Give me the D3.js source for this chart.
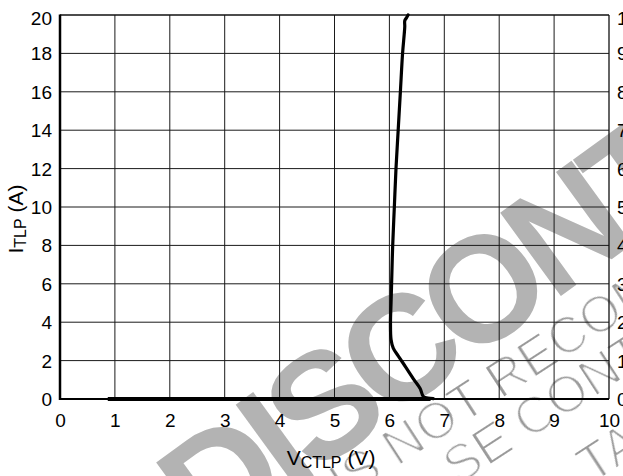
<!DOCTYPE html>
<html><head><meta charset="utf-8">
<script src="https://cdn.jsdelivr.net/npm/d3@7"></script>
<style>html,body{margin:0;padding:0;background:#fff;overflow:hidden}</style>
</head><body>
<svg id="c" width="623" height="476"></svg>
<script>
// ---- data ----
const xTicks = [0,1,2,3,4,5,6,7,8,9,10];
const yTicks = [0,2,4,6,8,10,12,14,16,18,20];
const yRightTicks = [0,1,2,3,4,5,6,7,8,9,10];
// TLP curve: V (volts) and I (amps)
const vBase = [0.87, 6.75];
const iBase = [0, 0];
const vCurve = [6.80,6.70,6.62,6.56,6.45,6.30,6.16,6.07,6.03,6.02,6.03,6.04,6.06,6.09,6.12,6.16,6.20,6.24,6.27,6.28,6.28,6.31,6.34];
const iCurve = [0.02,0.05,0.12,0.55,1.00,1.65,2.25,2.65,3.10,4.0,5.0,6.0,8.0,10.0,12.0,14.0,16.0,18.0,19.0,19.4,19.7,19.85,20.0];
const watermarkBig = "DISCONTINUED";
const watermarkLines = ["IS NOT RECOMMENDED", "SE CONTACT", "TATIVE"];

const svg = d3.select("#c");
const font = "'Liberation Sans', Arial, Helvetica, sans-serif";
const L = 60, R = 609, T = 15, B = 399;
const x = d3.scaleLinear().domain([0,10]).range([L,R]);
const y = d3.scaleLinear().domain([0,20]).range([B,T]);
const y2 = d3.scaleLinear().domain([0,10]).range([B,T]);

// ---- watermark (behind) ----
const defs = svg.append("defs");
defs.append("filter").attr("id","thin").attr("x","-10%").attr("y","-10%").attr("width","120%").attr("height","120%")
  .append("feMorphology").attr("operator","erode").attr("radius",0.9);

const wm = svg.append("g");
const bigFs = 150, ls = -10;
wm.append("g").attr("transform","translate(482,287) rotate(-36)")
  .append("text").attr("x",-(2.778*bigFs + 4*ls)).attr("y",0.358*bigFs)
  .attr("font-family",font).attr("font-weight","bold").attr("font-size",bigFs)
  .attr("letter-spacing",ls)
  .attr("fill","#b3b3b3").text(watermarkBig);

const wmPos = [
  {tx:404, ty:440, x:-84, y:19},
  {tx:460, ty:462, x:-15, y:19},
  {tx:590, ty:463, x:-10, y:19}
];
watermarkLines.forEach((t,i)=>{
  const p = wmPos[i];
  wm.append("g").attr("transform",`translate(${p.tx},${p.ty}) rotate(-33)`)
    .append("text").attr("x",p.x).attr("y",p.y)
    .attr("font-family",font).attr("font-size",52)
    .attr("fill","#9a9a9a").attr("filter","url(#thin)").text(t);
});

// ---- grid ----
const g = svg.append("g");
g.selectAll(".vx").data(xTicks.slice(1,-1)).enter().append("line")
  .attr("x1",d=>x(d)).attr("x2",d=>x(d)).attr("y1",T).attr("y2",B)
  .attr("stroke","#1a1a1a").attr("stroke-width",1);
g.selectAll(".hy").data(yTicks.slice(1,-1)).enter().append("line")
  .attr("x1",L).attr("x2",R).attr("y1",d=>y(d)).attr("y2",d=>y(d))
  .attr("stroke","#1a1a1a").attr("stroke-width",1);
// frame
g.append("line").attr("x1",L).attr("x2",R).attr("y1",T).attr("y2",T).attr("stroke","#111").attr("stroke-width",1.3);
g.append("line").attr("x1",R).attr("x2",R).attr("y1",T).attr("y2",B).attr("stroke","#111").attr("stroke-width",1.3);
g.append("line").attr("x1",L).attr("x2",R).attr("y1",B).attr("y2",B).attr("stroke","#000").attr("stroke-width",2);
g.append("line").attr("x1",L).attr("x2",L).attr("y1",T-0.5).attr("y2",B+1).attr("stroke","#000").attr("stroke-width",2.5);

// ---- axes labels (via d3 axes, domain hidden) ----
const fs = 19;
const axL = svg.append("g").attr("transform",`translate(${L},0)`)
  .call(d3.axisLeft(y).tickValues(yTicks).tickSize(0).tickPadding(8));
axL.select(".domain").remove();
axL.selectAll("text").attr("font-family",font).attr("font-size",fs).attr("fill","#000")
  .attr("dy",null).attr("y",d=> d===20 ? 9 : 6.5);

const axB = svg.append("g").attr("transform",`translate(0,${B})`)
  .call(d3.axisBottom(x).tickValues(xTicks).tickSize(0).tickPadding(0));
axB.select(".domain").remove();
axB.selectAll("text").attr("font-family",font).attr("font-size",fs).attr("fill","#000")
  .attr("dy",null).attr("y",28);

const axR = svg.append("g").attr("transform",`translate(${R},0)`)
  .call(d3.axisRight(y2).tickValues(yRightTicks).tickSize(0).tickPadding(8));
axR.select(".domain").remove();
axR.selectAll("text").attr("font-family",font).attr("font-size",fs).attr("fill","#000")
  .attr("dy",null).attr("y",d=> d===10 ? 9 : 6.5);

// ---- titles ----
const xt = svg.append("text").attr("x",331).attr("y",465).attr("text-anchor","middle")
  .attr("font-family",font).attr("fill","#000");
xt.append("tspan").attr("font-size",21).text("V");
xt.append("tspan").attr("font-size",16).attr("dy",3).text("CTLP");
xt.append("tspan").attr("font-size",21).attr("dy",-3).text(" (V)");

const yt = svg.append("text").attr("transform","translate(23,219) rotate(-90)").attr("text-anchor","middle")
  .attr("font-family",font).attr("fill","#000");
yt.append("tspan").attr("font-size",21).text("I");
yt.append("tspan").attr("font-size",16).attr("dy",3).text("TLP");
yt.append("tspan").attr("font-size",21).attr("dy",-3).text(" (A)");

// ---- data line ----
const line = d3.line().x(d=>x(d[0])).y(d=>y(d[1])).curve(d3.curveLinear);
svg.append("path").datum(vBase.map((v,i)=>[v,iBase[i]]))
  .attr("d",line).attr("fill","none").attr("stroke","#000").attr("stroke-width",4);
svg.append("path").datum(vCurve.map((v,i)=>[v,iCurve[i]]))
  .attr("d",d3.line().x(d=>x(d[0])).y(d=>y(d[1])).curve(d3.curveCatmullRom))
  .attr("fill","none").attr("stroke","#000").attr("stroke-width",3.2).attr("stroke-linejoin","round").attr("stroke-linecap","round");
</script>
</body></html>
